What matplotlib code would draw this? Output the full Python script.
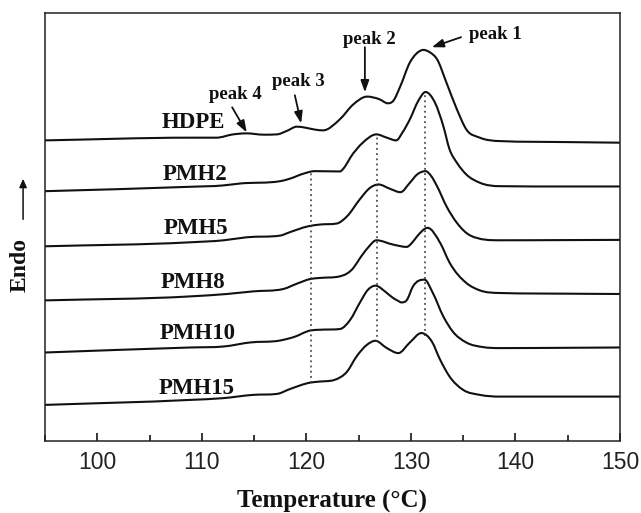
import numpy as np
import matplotlib
matplotlib.use("Agg")
import matplotlib.pyplot as plt
from matplotlib.path import Path
from matplotlib.patches import PathPatch, FancyArrowPatch
from matplotlib.ticker import MultipleLocator

# DSC heating curves (temperature in C, heat flow in a.u. incl. offset)
hdpe_t = [95.0, 108.9, 111.4, 113.0, 114.3, 115.9, 117.2, 118.1, 119.1, 119.9, 120.8, 121.6,
          123.2, 124.5, 125.8, 127.0, 127.8, 128.3, 129.0, 129.9, 130.5, 131.2, 131.8, 132.5,
          133.4, 134.4, 135.3, 136.6, 138.5, 145.0, 150.0]
hdpe_y = [300.0, 302.7, 302.7, 306.0, 307.0, 305.7, 306.0, 309.3, 313.7, 312.7, 310.8, 310.0,
          321.0, 336.0, 343.7, 341.0, 337.0, 339.3, 354.3, 377.7, 386.3, 390.3, 388.0, 381.0,
          357.7, 331.0, 311.0, 302.7, 299.3, 298.3, 297.7]

pmh2_t = [95.0, 108.9, 112.0, 113.7, 117.5, 118.4, 119.7, 120.8, 123.2, 123.7, 124.2, 125.4,
          126.7, 127.7, 128.6, 129.2, 129.9, 130.7, 131.4, 132.3, 133.1, 133.7, 134.4, 135.3,
          136.6, 138.5, 145.0, 150.0]
pmh2_y = [249.3, 253.7, 255.0, 257.0, 259.3, 261.7, 266.7, 269.3, 269.0, 274.0, 282.7, 297.7,
          306.0, 302.7, 300.0, 308.0, 321.0, 339.3, 348.3, 337.7, 314.3, 291.0, 277.7, 266.0,
          257.7, 254.3, 254.0, 254.0]

pmh5_t = [95.0, 108.9, 112.1, 114.3, 117.5, 118.4, 120.2, 121.3, 122.9, 123.9, 125.1, 126.1,
          126.9, 128.0, 129.0, 129.9, 130.6, 131.4, 131.9, 132.5, 133.4, 134.4, 135.7, 138.5,
          145.0, 150.0]
pmh5_y = [194.3, 198.3, 200.3, 203.3, 205.0, 208.3, 214.3, 216.0, 217.0, 224.3, 241.0, 252.7,
          256.0, 251.7, 248.3, 257.7, 266.0, 269.3, 265.0, 254.3, 234.3, 217.7, 205.0, 200.3,
          200.5, 200.7]

pmh8_t = [95.0, 108.9, 112.4, 114.9, 117.8, 119.1, 120.4, 121.3, 123.2, 124.5, 125.1, 125.9,
          126.7, 128.3, 129.6, 130.1, 130.6, 131.6, 132.8, 133.7, 135.3, 136.6, 138.5, 145.0,
          150.0]
pmh8_y = [140.3, 144.3, 146.7, 149.3, 151.7, 157.0, 161.7, 162.7, 164.3, 172.7, 182.0, 193.0,
          200.3, 196.0, 193.7, 197.7, 204.3, 212.7, 197.7, 178.0, 157.7, 150.3, 147.7, 147.0,
          146.7]

pmh10_t = [95.0, 108.9, 112.1, 114.6, 117.5, 118.8, 120.4, 121.3, 123.2, 124.2, 125.1, 125.9,
           126.6, 127.7, 128.3, 128.7, 129.1, 129.6, 130.2, 131.3, 132.1, 133.1, 134.0, 135.3,
           136.9, 138.5, 145.0, 150.0]
pmh10_y = [88.3, 93.3, 94.3, 98.3, 100.3, 103.7, 110.3, 111.0, 111.7, 121.0, 137.7, 151.0,
           155.0, 147.7, 142.7, 140.3, 138.3, 140.5, 154.3, 161.0, 147.7, 124.3, 109.3, 98.3,
           93.7, 92.7, 93.0, 93.3]

pmh15_t = [95.0, 108.9, 112.0, 114.9, 117.2, 118.4, 120.4, 121.3, 122.7, 123.9, 124.8, 125.8,
           126.6, 127.7, 128.8, 129.9, 131.0, 132.0, 132.8, 133.7, 135.0, 136.6, 138.5, 145.0,
           150.0]
pmh15_y = [36.0, 41.0, 42.7, 46.0, 47.0, 51.7, 58.3, 59.3, 61.0, 69.3, 84.3, 96.0,
           100.0, 92.7, 87.7, 98.3, 107.7, 99.3, 81.0, 64.3, 51.0, 46.0, 44.3, 44.3, 44.3]

samples = ["HDPE", "PMH2", "PMH5", "PMH8", "PMH10", "PMH15"]
curves_t = [hdpe_t, pmh2_t, pmh5_t, pmh8_t, pmh10_t, pmh15_t]
curves_y = [hdpe_y, pmh2_y, pmh5_y, pmh8_y, pmh10_y, pmh15_y]

# peak temperatures marked with dotted lines
peak_temps = [120.45, 126.75, 131.35]

serif = "Liberation Serif"


def smooth_path(x, y):
    # draw through the read points with cubic bezier segments, limited tangents
    x = np.asarray(x, float)
    y = np.asarray(y, float)
    h = np.diff(x)
    d = np.diff(y) / h
    m = np.zeros_like(y)
    for i in range(1, len(x) - 1):
        if d[i - 1] * d[i] <= 0:
            continue
        mi = (h[i] * d[i - 1] + h[i - 1] * d[i]) / (h[i - 1] + h[i])
        lim = 3 * min(abs(d[i - 1]), abs(d[i]))
        m[i] = np.sign(mi) * min(abs(mi), lim)
    m[0] = d[0]
    m[-1] = d[-1]
    verts = [(x[0], y[0])]
    codes = [Path.MOVETO]
    for i in range(len(x) - 1):
        verts += [(x[i] + h[i] / 3, y[i] + m[i] * h[i] / 3),
                  (x[i + 1] - h[i] / 3, y[i + 1] - m[i + 1] * h[i] / 3),
                  (x[i + 1], y[i + 1])]
        codes += [Path.CURVE4] * 3
    return Path(verts, codes)


fig = plt.figure(figsize=(6.41, 5.13), dpi=100)
ax = fig.add_axes([0.0702, 0.1404, 0.897, 0.834])

for t, y in zip(curves_t, curves_y):
    ax.add_patch(PathPatch(smooth_path(t, y), facecolor="none", edgecolor="#111111",
                           lw=1.5, joinstyle="round", capstyle="round"))

# dotted guide lines run from PMH15 up to PMH2
for tp in peak_temps:
    y_lo = np.interp(tp, pmh15_t, pmh15_y)
    y_hi = np.interp(tp, pmh2_t, pmh2_y)
    ax.plot([tp, tp], [y_lo, y_hi], color="#333333", lw=1.1, ls=(0, (1.2, 2.2)))

# sample labels
label_xy = [(109.2, 318), (109.4, 266), (109.4, 212), (109.2, 158), (109.6, 107), (109.5, 52)]
for name, (lx, ly) in zip(samples, label_xy):
    ax.text(lx, ly, name, ha="center", va="center", fontsize=16.5,
            fontweight="bold", family=serif, color="#111111")

# peak annotations
arrow = dict(arrowstyle="-|>,head_length=0.7,head_width=0.25", color="#111111",
             lw=1.3, shrinkA=0, shrinkB=0)
peak_notes = [("peak 1", (138.1, 406), (134.8, 403), (132.0, 393)),
              ("peak 2", (126.0, 401), (125.6, 393), (125.6, 348)),
              ("peak 3", (119.2, 359), (118.9, 345), (119.5, 317)),
              ("peak 4", (113.2, 346), (112.9, 333), (114.3, 308))]
for txt, pos, tail, head in peak_notes:
    ax.text(pos[0], pos[1], txt, ha="center", va="center", fontsize=13.5,
            fontweight="bold", family=serif, color="#111111")
    ax.annotate("", xy=head, xytext=tail, arrowprops=arrow)

ax.set_xlim(95, 150)
ax.set_ylim(0, 427)
ax.xaxis.set_major_locator(MultipleLocator(10))
ax.xaxis.set_minor_locator(MultipleLocator(5))
ax.tick_params(axis="x", which="major", direction="in", length=6, width=1.1,
               labelsize=16.5, pad=7)
ax.tick_params(axis="x", which="minor", direction="in", length=4, width=1.1)
ax.set_yticks([])
for lab in ax.get_xticklabels():
    lab.set_family("Liberation Sans")
    lab.set_color("#222222")
for s in ax.spines.values():
    s.set_linewidth(1.1)
    s.set_color("#222222")

ax.set_xlabel("Temperature (\u00b0C)", fontsize=18, fontweight="bold", family=serif,
              labelpad=12, color="#111111")

fig.text(0.032, 0.483, "Endo", rotation=90, ha="center", va="center", fontsize=17,
         fontweight="bold", family=serif, color="#111111")
fig.patches.append(FancyArrowPatch(
    (0.036, 0.567), (0.036, 0.657), transform=fig.transFigure,
    arrowstyle="-|>,head_length=5,head_width=2.2", color="#111111", lw=1.1))

fig.savefig("out.png", dpi=100, facecolor="white")
